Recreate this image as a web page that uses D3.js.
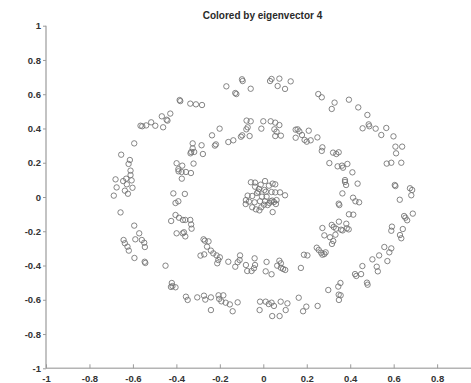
<!DOCTYPE html>
<html>
<head>
<meta charset="utf-8">
<script src="https://cdn.jsdelivr.net/npm/d3@7"></script>
<style>
  html, body { margin: 0; padding: 0; background: #fff; }
  svg { display: block; }
</style>
</head>
<body>
<script>
// Spectral clustering demo: three concentric groups, coloured by eigenvector 4
const title = "Colored by eigenvector 4";
const xTicks = [-1, -0.8, -0.6, -0.4, -0.2, 0, 0.2, 0.4, 0.6, 0.8];
const yTicks = [-1, -0.8, -0.6, -0.4, -0.2, 0, 0.2, 0.4, 0.6, 0.8, 1];

// outer ring
const outerRing = [
  [-0.098,0.687],[-0.095,0.677],[-0.170,0.646],[-0.129,0.607],[-0.124,0.601],[-0.058,0.632],
  [0.031,0.677],[0.038,0.689],[0.074,0.691],[0.066,0.648],[0.100,0.631],[0.126,0.675],
  [-0.385,0.566],[-0.382,0.560],[-0.336,0.545],[-0.310,0.541],[-0.282,0.537],[-0.467,0.471],
  [-0.428,0.487],[-0.445,0.451],[-0.441,0.446],[-0.461,0.407],[-0.497,0.416],[-0.516,0.436],
  [-0.539,0.418],[-0.565,0.416],[-0.557,0.413],[-0.594,0.313],[-0.654,0.247],[-0.614,0.216],
  [-0.620,0.193],[-0.611,0.154],[-0.611,0.128],[-0.631,0.107],[-0.606,0.097],[-0.680,0.103],
  [-0.645,0.093],[-0.628,0.074],[-0.602,0.054],[-0.675,0.056],[-0.637,0.037],[-0.623,0.019],
  [-0.688,0.008],[-0.657,-0.090],[-0.594,-0.167],[-0.571,-0.212],[-0.589,-0.247],[-0.559,-0.251],
  [-0.548,-0.267],[-0.643,-0.251],[-0.637,-0.270],[-0.625,-0.290],[-0.545,-0.292],[-0.619,-0.313],
  [-0.593,-0.356],[-0.546,-0.378],[-0.543,-0.385],[-0.450,-0.401],[-0.421,-0.502],[-0.418,-0.520],
  [-0.404,-0.527],[-0.425,-0.525],[-0.356,-0.582],[-0.348,-0.601],[-0.304,-0.586],[-0.273,-0.576],
  [-0.267,-0.599],[-0.241,-0.586],[-0.241,-0.660],[-0.206,-0.574],[-0.184,-0.574],[-0.203,-0.595],
  [-0.193,-0.609],[-0.173,-0.617],[-0.154,-0.627],[-0.141,-0.667],[-0.118,-0.615],[-0.015,-0.611],
  [-0.017,-0.660],[0.011,-0.611],[0.025,-0.625],[0.038,-0.617],[0.049,-0.636],[0.041,-0.695],
  [0.075,-0.695],[0.080,-0.611],[0.103,-0.660],[0.111,-0.621],[0.163,-0.588],[0.183,-0.667],
  [0.198,-0.640],[0.250,-0.636],[0.299,-0.543],[0.345,-0.523],[0.355,-0.502],[0.347,-0.570],
  [0.356,-0.574],[0.348,-0.601],[0.422,-0.450],[0.428,-0.461],[0.450,-0.450],[0.456,-0.403],
  [0.477,-0.500],[0.480,-0.512],[0.502,-0.364],[0.527,-0.434],[0.522,-0.407],[0.533,-0.341],
  [0.557,-0.292],[0.571,-0.374],[0.580,-0.323],[0.589,-0.300],[0.592,-0.173],[0.589,-0.197],
  [0.629,-0.222],[0.635,-0.241],[0.642,-0.187],[0.648,-0.111],[0.654,-0.121],[0.662,-0.136],
  [0.688,-0.097],[0.628,-0.016],[0.605,0.070],[0.608,0.064],[0.675,0.051],[0.685,0.041],
  [0.681,0.010],[0.568,0.195],[0.589,0.200],[0.635,0.200],[0.611,0.255],[0.608,0.294],
  [0.639,0.294],[0.599,0.354],[0.566,0.403],[0.543,0.362],[0.517,0.399],[0.485,0.424],
  [0.488,0.413],[0.457,0.401],[0.479,0.479],[0.437,0.523],[0.394,0.568],[0.328,0.551],
  [0.315,0.514],[0.253,0.601],[0.269,0.582]
];

// middle ring
const middleRing = [
  [-0.077,0.446],[-0.058,0.442],[-0.072,0.407],[-0.078,0.395],[-0.063,0.356],[-0.097,0.360],
  [-0.103,0.352],[-0.009,0.399],[0.000,0.442],[0.034,0.442],[0.055,0.434],[0.074,0.420],
  [0.051,0.395],[0.061,0.381],[0.081,0.358],[0.055,0.356],[-0.201,0.399],[-0.236,0.360],
  [-0.218,0.307],[-0.223,0.300],[-0.161,0.321],[-0.138,0.331],[0.149,0.393],[0.158,0.395],
  [0.166,0.383],[0.209,0.387],[0.149,0.346],[0.178,0.362],[0.190,0.333],[0.200,0.323],
  [0.218,0.331],[0.249,0.348],[0.272,0.290],[0.269,0.269],[0.321,0.259],[0.336,0.251],
  [0.347,0.261],[0.304,0.198],[0.342,0.179],[0.362,0.183],[0.367,0.171],[0.387,0.193],
  [0.410,0.144],[0.376,0.099],[0.376,0.088],[0.381,0.070],[0.434,0.078],[0.364,0.021],
  [0.413,-0.004],[0.424,-0.025],[0.441,-0.031],[0.347,-0.039],[0.350,-0.047],[0.394,-0.101],
  [0.414,-0.103],[0.315,-0.163],[0.324,-0.175],[0.335,-0.185],[0.348,-0.144],[0.382,-0.156],
  [0.358,-0.191],[0.365,-0.195],[0.384,-0.183],[0.393,-0.189],[0.272,-0.181],[0.332,-0.220],
  [0.281,-0.224],[0.307,-0.235],[0.322,-0.257],[0.316,-0.274],[0.246,-0.296],[0.255,-0.309],
  [0.266,-0.325],[0.281,-0.333],[0.287,-0.323],[0.272,-0.337],[0.187,-0.337],[0.203,-0.341],
  [0.173,-0.414],[0.074,-0.372],[0.081,-0.387],[0.081,-0.413],[0.091,-0.420],[0.101,-0.426],
  [0.064,-0.401],[0.015,-0.379],[0.011,-0.434],[0.038,-0.451],[-0.040,-0.358],[-0.038,-0.397],
  [-0.043,-0.416],[-0.054,-0.432],[-0.074,-0.432],[-0.080,-0.397],[-0.107,-0.341],[-0.109,-0.368],
  [-0.118,-0.381],[-0.129,-0.407],[-0.161,-0.378],[-0.200,-0.352],[-0.207,-0.368],[-0.212,-0.387],
  [-0.215,-0.341],[-0.230,-0.329],[-0.241,-0.313],[-0.259,-0.290],[-0.269,-0.255],[-0.252,-0.259],
  [-0.275,-0.247],[-0.289,-0.342],[-0.272,-0.335],[-0.399,0.197],[-0.373,0.183],[-0.391,0.162],
  [-0.321,0.195],[-0.376,0.146],[-0.390,0.150],[-0.356,0.146],[-0.333,0.140],[-0.375,0.107],
  [-0.414,0.021],[-0.361,0.018],[-0.404,-0.035],[-0.391,-0.025],[-0.424,-0.140],[-0.404,-0.105],
  [-0.388,-0.121],[-0.370,-0.134],[-0.359,-0.134],[-0.336,-0.134],[-0.332,-0.160],[-0.330,-0.185],
  [-0.399,-0.212],[-0.371,-0.212],[-0.359,-0.230],[-0.365,-0.206],[-0.325,0.313],[-0.325,0.284],
  [-0.332,0.263],[-0.335,0.255],[-0.318,0.263],[-0.284,0.302],[-0.278,0.251]
];

// central cluster
const core = [
  [-0.057,0.086],[-0.038,0.084],[-0.012,0.072],[0.008,0.093],[0.026,0.066],[0.043,0.078],
  [0.055,0.074],[-0.020,0.047],[0.005,0.041],[0.012,0.031],[-0.023,0.031],[-0.072,0.008],
  [-0.051,0.006],[-0.029,0.023],[-0.006,0.002],[0.015,0.002],[0.038,0.029],[0.055,0.027],
  [0.077,0.027],[0.100,0.010],[-0.080,-0.018],[-0.066,-0.027],[-0.040,-0.031],[-0.015,-0.025],
  [0.008,-0.025],[0.034,-0.025],[0.049,-0.029],[0.058,-0.041],[-0.081,-0.041],[-0.051,-0.060],
  [-0.034,-0.072],[-0.018,-0.078],[0.020,-0.047],[0.041,-0.021],[0.028,-0.035],[0.043,-0.088],
  [-0.009,-0.060],[0.003,-0.045],[-0.038,0.060],[0.061,-0.018]
];

const W = 471, H = 383;
const svg = d3.select("body").append("svg").attr("width", W).attr("height", H);

// axis box: x range continues past the window edge, as in the original figure
const x = d3.scaleLinear().domain([-1, 1]).range([46, 480.6]);
const y = d3.scaleLinear().domain([-1, 1]).range([368.3, 25.7]);

const fmt = d => String(d);

const axisColor = "#b4b4b4";
const labelFont = "Liberation Sans, Arial, sans-serif";

// y axis
const gy = svg.append("g").attr("transform", `translate(${x(-1)},0)`)
  .call(d3.axisLeft(y).tickValues(yTicks).tickSize(3).tickPadding(2).tickFormat(fmt));
// x axis (ticks point into the plot)
const gx = svg.append("g").attr("transform", `translate(0,${y(-1)})`)
  .call(d3.axisBottom(x).tickValues(xTicks).tickSize(-4).tickPadding(4).tickFormat(fmt));

[gx, gy].forEach(g => {
  g.select(".domain").attr("stroke", axisColor).attr("stroke-width", 1.6);
  g.selectAll(".tick line").attr("stroke", "#9a9a9a").attr("stroke-width", 1);
  g.selectAll(".tick text")
    .attr("fill", "#333")
    .style("font-family", labelFont)
    .style("font-size", "9.5px")
    .style("font-weight", "bold");
});
gy.select(".domain").attr("d", `M0,${y(1)}V${y(-1)}`);
gx.select(".domain").attr("d", `M${x(-1)},0H${W + 20}`);
gx.selectAll(".tick text").attr("dy", "1.05em");

// title
svg.append("text")
  .attr("x", 262.5).attr("y", 19)
  .attr("text-anchor", "middle")
  .attr("fill", "#2a2a2a")
  .style("font-family", labelFont)
  .style("font-size", "10px")
  .style("font-weight", "bold")
  .text(title);

// points
const points = outerRing.concat(middleRing, core);
svg.append("g")
  .selectAll("circle")
  .data(points)
  .join("circle")
  .attr("cx", d => x(d[0]))
  .attr("cy", d => y(d[1]))
  .attr("r", 2.7)
  .attr("fill", "none")
  .attr("stroke", "#707070")
  .attr("stroke-width", 0.85);
</script>
</body>
</html>
